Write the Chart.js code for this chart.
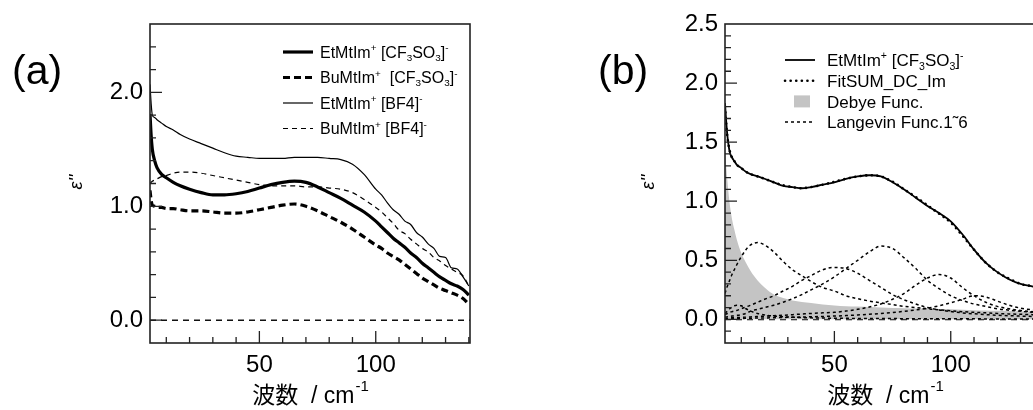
<!DOCTYPE html>
<html>
<head>
<meta charset="utf-8">
<script src="https://cdn.jsdelivr.net/npm/chart.js@4"></script>
<style>
  html, body { margin: 0; padding: 0; background: #fff; overflow: hidden; width: 1033px; height: 410px; }
  canvas { position: absolute; top: 0; }
</style>
</head>
<body>
<canvas id="chartA" width="516" height="410" style="left:0"></canvas>
<canvas id="chartB" width="560" height="410" style="left:516px"></canvas>
<script>
// ---- data: panel (a) ----
const waveA = [3, 3.5, 4, 5, 6, 8, 10, 13, 16, 20, 25, 30, 35, 40, 45, 50, 55, 60, 65, 70, 75, 80, 85, 90, 95,
  100, 102.5, 105, 107.5, 110, 112.5, 115, 117.5, 120, 122.5, 125, 127.5, 130, 132.5, 135, 137.5, 140];
const etCF3SO3 = [1.81, 1.62, 1.50, 1.40, 1.34, 1.28, 1.25, 1.21, 1.18, 1.15, 1.12, 1.10, 1.10, 1.11, 1.13, 1.16, 1.19, 1.21, 1.22, 1.21, 1.17, 1.12, 1.07, 1.01, 0.95,
  0.87, 0.82, 0.77, 0.72, 0.68, 0.64, 0.59, 0.55, 0.50, 0.46, 0.42, 0.38, 0.35, 0.32, 0.30, 0.27, 0.22];
const buCF3SO3 = [1.14, 1.05, 1.01, 1.00, 0.99, 0.99, 0.98, 0.98, 0.97, 0.96, 0.96, 0.95, 0.94, 0.94, 0.95, 0.97, 0.99, 1.01, 1.02, 1.00, 0.96, 0.91, 0.86, 0.80, 0.73,
  0.66, 0.63, 0.59, 0.56, 0.53, 0.49, 0.45, 0.41, 0.37, 0.34, 0.31, 0.28, 0.26, 0.24, 0.22, 0.19, 0.14];
const etBF4 = [2.07, 1.90, 1.80, 1.78, 1.76, 1.73, 1.70, 1.67, 1.63, 1.59, 1.55, 1.51, 1.47, 1.44, 1.43, 1.42, 1.42, 1.42, 1.43, 1.43, 1.43, 1.42, 1.41, 1.37, 1.28,
  1.15, 1.10, 1.03, 0.97, 0.93, 0.87, 0.84, 0.77, 0.73, 0.67, 0.63, 0.56, 0.55, 0.46, 0.45, 0.38, 0.30];
const buBF4 = [1.20, 1.21, 1.22, 1.23, 1.24, 1.26, 1.27, 1.29, 1.30, 1.30, 1.29, 1.27, 1.25, 1.23, 1.21, 1.19, 1.18, 1.18, 1.18, 1.17, 1.17, 1.16, 1.15, 1.12, 1.06,
  0.99, 0.95, 0.90, 0.85, 0.79, 0.76, 0.71, 0.67, 0.63, 0.60, 0.55, 0.52, 0.48, 0.45, 0.42, 0.39, 0.30];

// ---- data: panel (b) ----
const waveB = [3, 3.5, 4, 5, 6, 7, 8, 10, 12, 14, 17, 20, 24, 28, 32, 36, 40, 45, 50, 55, 60, 65, 70, 75, 80, 85, 90, 95, 100, 105, 110, 115, 120, 125, 130, 135, 140];
const measured = [1.83, 1.68, 1.56, 1.42, 1.37, 1.34, 1.31, 1.28, 1.25, 1.23, 1.21, 1.19, 1.16, 1.13, 1.12, 1.11, 1.12, 1.14, 1.16, 1.19, 1.21, 1.22, 1.21, 1.16, 1.10, 1.03, 0.96, 0.90, 0.83, 0.72, 0.59, 0.48, 0.40, 0.34, 0.30, 0.28, 0.25];
const fitSum = [1.80, 1.66, 1.55, 1.43, 1.37, 1.34, 1.31, 1.28, 1.25, 1.23, 1.21, 1.19, 1.16, 1.135, 1.12, 1.11, 1.12, 1.14, 1.165, 1.19, 1.21, 1.22, 1.21, 1.165, 1.10, 1.035, 0.965, 0.895, 0.82, 0.71, 0.59, 0.48, 0.40, 0.345, 0.30, 0.28, 0.25];
const debye = [1.42, 1.30, 1.18, 0.98, 0.85, 0.76, 0.68, 0.56, 0.48, 0.41, 0.33, 0.27, 0.21, 0.18, 0.16, 0.148, 0.138, 0.125, 0.118, 0.112, 0.108, 0.105, 0.10, 0.097, 0.095, 0.092, 0.09, 0.087, 0.085, 0.082, 0.078, 0.075, 0.072, 0.07, 0.067, 0.065, 0.062];
const lang1 = [0.22, 0.25, 0.28, 0.33, 0.38, 0.42, 0.46, 0.53, 0.59, 0.63, 0.65, 0.63, 0.57, 0.49, 0.42, 0.37, 0.32, 0.27, 0.24, 0.20, 0.175, 0.155, 0.14, 0.125, 0.11, 0.10, 0.09, 0.08, 0.072, 0.065, 0.06, 0.055, 0.05, 0.046, 0.043, 0.04, 0.037];
const lang2 = [0.04, 0.045, 0.05, 0.06, 0.065, 0.07, 0.075, 0.09, 0.105, 0.12, 0.145, 0.17, 0.20, 0.24, 0.28, 0.33, 0.37, 0.42, 0.44, 0.43, 0.39, 0.33, 0.27, 0.21, 0.165, 0.13, 0.10, 0.08, 0.066, 0.055, 0.047, 0.04, 0.035, 0.031, 0.028, 0.025, 0.023];
const lang3 = [0.02, 0.02, 0.022, 0.025, 0.028, 0.03, 0.033, 0.04, 0.05, 0.07, 0.085, 0.10, 0.12, 0.145, 0.175, 0.21, 0.25, 0.30, 0.36, 0.43, 0.50, 0.57, 0.62, 0.60, 0.52, 0.43, 0.33, 0.26, 0.20, 0.16, 0.13, 0.11, 0.09, 0.078, 0.068, 0.06, 0.053];
const lang4 = [0.01, 0.01, 0.01, 0.012, 0.013, 0.014, 0.015, 0.017, 0.019, 0.021, 0.024, 0.027, 0.031, 0.035, 0.04, 0.045, 0.05, 0.055, 0.06, 0.07, 0.085, 0.105, 0.13, 0.17, 0.22, 0.29, 0.35, 0.38, 0.35, 0.27, 0.20, 0.145, 0.11, 0.09, 0.075, 0.065, 0.057];
const lang5 = [0.005, 0.005, 0.005, 0.006, 0.006, 0.007, 0.007, 0.008, 0.009, 0.01, 0.011, 0.012, 0.014, 0.016, 0.018, 0.02, 0.022, 0.025, 0.028, 0.032, 0.037, 0.043, 0.05, 0.058, 0.068, 0.08, 0.095, 0.115, 0.14, 0.17, 0.20, 0.19, 0.155, 0.12, 0.095, 0.08, 0.068];
const lang6 = [0.05, 0.06, 0.07, 0.09, 0.105, 0.115, 0.12, 0.115, 0.09, 0.07, 0.05, 0.038, 0.028, 0.022, 0.018, 0.015, 0.013, 0.011, 0.01, 0.009, 0.008, 0.008, 0.007, 0.007, 0.006, 0.006, 0.006, 0.005, 0.005, 0.005, 0.005, 0.004, 0.004, 0.004, 0.004, 0.004, 0.004];

// ---- ticks ----
const xTicks = [10, 20, 30, 40, 50, 60, 70, 80, 90, 100, 110, 120, 130, 140];
const yTicksA = [0, 0.2, 0.4, 0.6, 0.8, 1.0, 1.2, 1.4, 1.6, 1.8, 2.0, 2.2, 2.4];
const yTicksB = [-0.1, 0, 0.1, 0.2, 0.3, 0.4, 0.5, 0.6, 0.7, 0.8, 0.9, 1.0, 1.1, 1.2, 1.3, 1.4, 1.5, 1.6, 1.7, 1.8, 1.9, 2.0, 2.1, 2.2, 2.3, 2.4, 2.5];

const pts = (xs, ys) => xs.map((x, i) => ({ x: x, y: ys[i] }));
const SANS = '"Liberation Sans", Arial, sans-serif';
const CJK = '"Noto Sans CJK JP", sans-serif';

// text with ^{sup} and _{sub}
function richText(ctx, str, x, y, size) {
  const parts = str.split(/(\^\{[^}]*\}|_\{[^}]*\})/).filter(p => p);
  let cx = x;
  parts.forEach(p => {
    let fs = size, dy = 0, t = p;
    if (p.startsWith('^{')) { t = p.slice(2, -1); fs = size * 0.62; dy = -size * 0.42; }
    else if (p.startsWith('_{')) { t = p.slice(2, -1); fs = size * 0.62; dy = size * 0.2; }
    ctx.font = fs + 'px ' + SANS;
    ctx.fillText(t, cx, y + dy);
    cx += ctx.measureText(t).width;
  });
}

const decor = {
  id: 'decor',
  beforeDatasetsDraw(chart, args, o) {
    const ctx = chart.ctx, a = chart.chartArea, y0 = chart.scales.y.getPixelForValue(0);
    ctx.save();
    ctx.strokeStyle = '#111';
    ctx.lineWidth = 1.6;
    ctx.setLineDash([6, 5]);
    ctx.beginPath(); ctx.moveTo(a.left, y0); ctx.lineTo(a.right, y0); ctx.stroke();
    ctx.restore();
  },
  afterDraw(chart, args, o) {
    const ctx = chart.ctx, a = chart.chartArea, xs = chart.scales.x, ys = chart.scales.y;
    ctx.save();
    ctx.strokeStyle = '#222';
    ctx.fillStyle = '#000';
    // inward tick marks
    ctx.lineWidth = 1.3;
    ctx.beginPath();
    xs.ticks.forEach(t => {
      const px = xs.getPixelForValue(t.value);
      const len = t.label ? 12 : 6;
      ctx.moveTo(px, a.bottom); ctx.lineTo(px, a.bottom - len);
    });
    ys.ticks.forEach(t => {
      const py = ys.getPixelForValue(t.value);
      if (py < a.top + 1) return;
      const len = t.label ? 12 : 6;
      ctx.moveTo(a.left, py); ctx.lineTo(a.left + len, py);
    });
    ctx.stroke();
    // frame
    ctx.lineWidth = 1.6;
    ctx.strokeRect(a.left, a.top, a.right - a.left, a.bottom - a.top);

    // panel letter
    ctx.textAlign = 'left';
    ctx.textBaseline = 'alphabetic';
    ctx.font = '41px ' + SANS;
    ctx.fillText(o.letter, o.letterX, 84);

    // y title
    ctx.save();
    ctx.translate(o.yTitleX, 182);
    ctx.rotate(-Math.PI / 2);
    ctx.textAlign = 'center';
    ctx.font = 'italic 18px ' + SANS;
    ctx.fillText("\u03b5''", 0, 6);
    ctx.restore();

    // x title: 波数  / cm^-1
    const cx = (a.left + a.right) / 2, base = 403;
    ctx.font = '23px ' + CJK; const w1 = ctx.measureText('波数').width;
    ctx.font = '23px ' + SANS; const w2 = ctx.measureText('  / cm').width;
    ctx.font = '15px ' + SANS; const w3 = ctx.measureText('-1').width;
    let sx = cx - (w1 + w2 + w3) / 2;
    ctx.font = '23px ' + CJK; ctx.fillText('波数', sx, base); sx += w1;
    ctx.font = '23px ' + SANS; ctx.fillText('  / cm', sx, base); sx += w2;
    ctx.font = '15px ' + SANS; ctx.fillText('-1', sx + 1, base - 12);

    // legend
    const lg = o.legend;
    let row = 0;
    chart.data.datasets.forEach(ds => {
      if (ds.noLegend) return;
      const y = lg.y + row * lg.dy;
      ctx.save();
      if (ds.fill) {
        ctx.fillStyle = ds.backgroundColor;
        ctx.fillRect(lg.x + 9, y - 6, 16, 12);
      } else {
        ctx.strokeStyle = ds.borderColor;
        ctx.lineWidth = ds.borderWidth;
        ctx.lineCap = ds.borderCapStyle || 'butt';
        ctx.setLineDash(ds.borderDash || []);
        ctx.beginPath(); ctx.moveTo(lg.x, y); ctx.lineTo(lg.x + lg.len, y); ctx.stroke();
      }
      ctx.restore();
      richText(ctx, ds.label, lg.textX, y + lg.size * 0.36, lg.size);
      row++;
    });
    ctx.restore();
  }
};

function panelOptions(p) {
  const tickFont = { family: SANS, size: 24 };
  return {
    responsive: false,
    animation: false,
    devicePixelRatio: 1,
    events: [],
    layout: { padding: { left: 0, right: p.padRight, top: 24, bottom: 0 } },
    elements: { point: { radius: 0 }, line: { cubicInterpolationMode: 'monotone' } },
    plugins: { legend: { display: false }, tooltip: { enabled: false }, decor: p.decor },
    scales: {
      x: {
        type: 'linear', min: 3, max: 140.5,
        grid: { display: false, drawTicks: false }, border: { display: false },
        afterBuildTicks: s => { s.ticks = xTicks.map(v => ({ value: v })); },
        afterFit: s => { s.height = 67; },
        ticks: { padding: 8, autoSkip: false, maxRotation: 0, color: '#000', font: tickFont,
          callback: v => (v % 50 === 0 ? String(v) : '') }
      },
      y: {
        type: 'linear', min: -0.2, max: p.yMax,
        grid: { display: false, drawTicks: false }, border: { display: false },
        afterBuildTicks: s => { s.ticks = p.yTicks.map(v => ({ value: v })); },
        afterFit: s => { s.width = p.yWidth; },
        ticks: { padding: 7, autoSkip: false, color: '#000', font: tickFont,
          callback: v => {
            const r = v / p.labelStep;
            return Math.abs(r - Math.round(r)) < 1e-6 ? v.toFixed(1) : '';
          } }
      }
    }
  };
}

new Chart(document.getElementById('chartA'), {
  type: 'line',
  data: {
    datasets: [
      { label: 'EtMtIm^{+} [CF_{3}SO_{3}]^{-}', data: pts(waveA, etCF3SO3), borderColor: '#000', borderWidth: 3.2 },
      { label: 'BuMtIm^{+}  [CF_{3}SO_{3}]^{-}', data: pts(waveA, buCF3SO3), borderColor: '#000', borderWidth: 3.2, borderDash: [7, 4] },
      { label: 'EtMtIm^{+} [BF4]^{-}', data: pts(waveA, etBF4), borderColor: '#000', borderWidth: 1.2 },
      { label: 'BuMtIm^{+} [BF4]^{-}', data: pts(waveA, buBF4), borderColor: '#000', borderWidth: 1.2, borderDash: [5, 4] }
    ]
  },
  options: panelOptions({
    padRight: 46, yMax: 2.6, yTicks: yTicksA, labelStep: 1, yWidth: 150,
    decor: { letter: '(a)', letterX: 12, yTitleX: 76,
      legend: { x: 283, len: 30, textX: 320, y: 52, dy: 25.5, size: 16 } }
  }),
  plugins: [decor]
});

const langStyle = { borderColor: '#000', borderWidth: 1.5, borderDash: [3, 3], order: 2 };
new Chart(document.getElementById('chartB'), {
  type: 'line',
  data: {
    datasets: [
      { label: 'EtMtIm^{+} [CF_{3}SO_{3}]^{-}', data: pts(waveB, measured), borderColor: '#000', borderWidth: 1.8, order: 0 },
      { label: 'FitSUM_DC_Im', data: pts(waveB, fitSum), borderColor: '#000', borderWidth: 2.6, borderDash: [0.1, 5.5], borderCapStyle: 'round', order: 1 },
      { label: 'Debye Func.', data: pts(waveB, debye), borderWidth: 0, borderColor: 'rgba(0,0,0,0)', backgroundColor: '#c4c4c4', fill: 'origin', order: 3 },
      Object.assign({ label: 'Langevin Func.1\u02dc6', data: pts(waveB, lang1) }, langStyle),
      Object.assign({ label: 'Langevin 2', noLegend: true, data: pts(waveB, lang2) }, langStyle),
      Object.assign({ label: 'Langevin 3', noLegend: true, data: pts(waveB, lang3) }, langStyle),
      Object.assign({ label: 'Langevin 4', noLegend: true, data: pts(waveB, lang4) }, langStyle),
      Object.assign({ label: 'Langevin 5', noLegend: true, data: pts(waveB, lang5) }, langStyle),
      Object.assign({ label: 'Langevin 6', noLegend: true, data: pts(waveB, lang6) }, langStyle)
    ]
  },
  options: panelOptions({
    padRight: 31, yMax: 2.5, yTicks: yTicksB, labelStep: 0.5, yWidth: 209,
    decor: { letter: '(b)', letterX: 82, yTitleX: 132,
      legend: { x: 269, len: 30, textX: 311, y: 60, dy: 20.7, size: 17 } }
  }),
  plugins: [decor]
});
</script>
</body>
</html>
